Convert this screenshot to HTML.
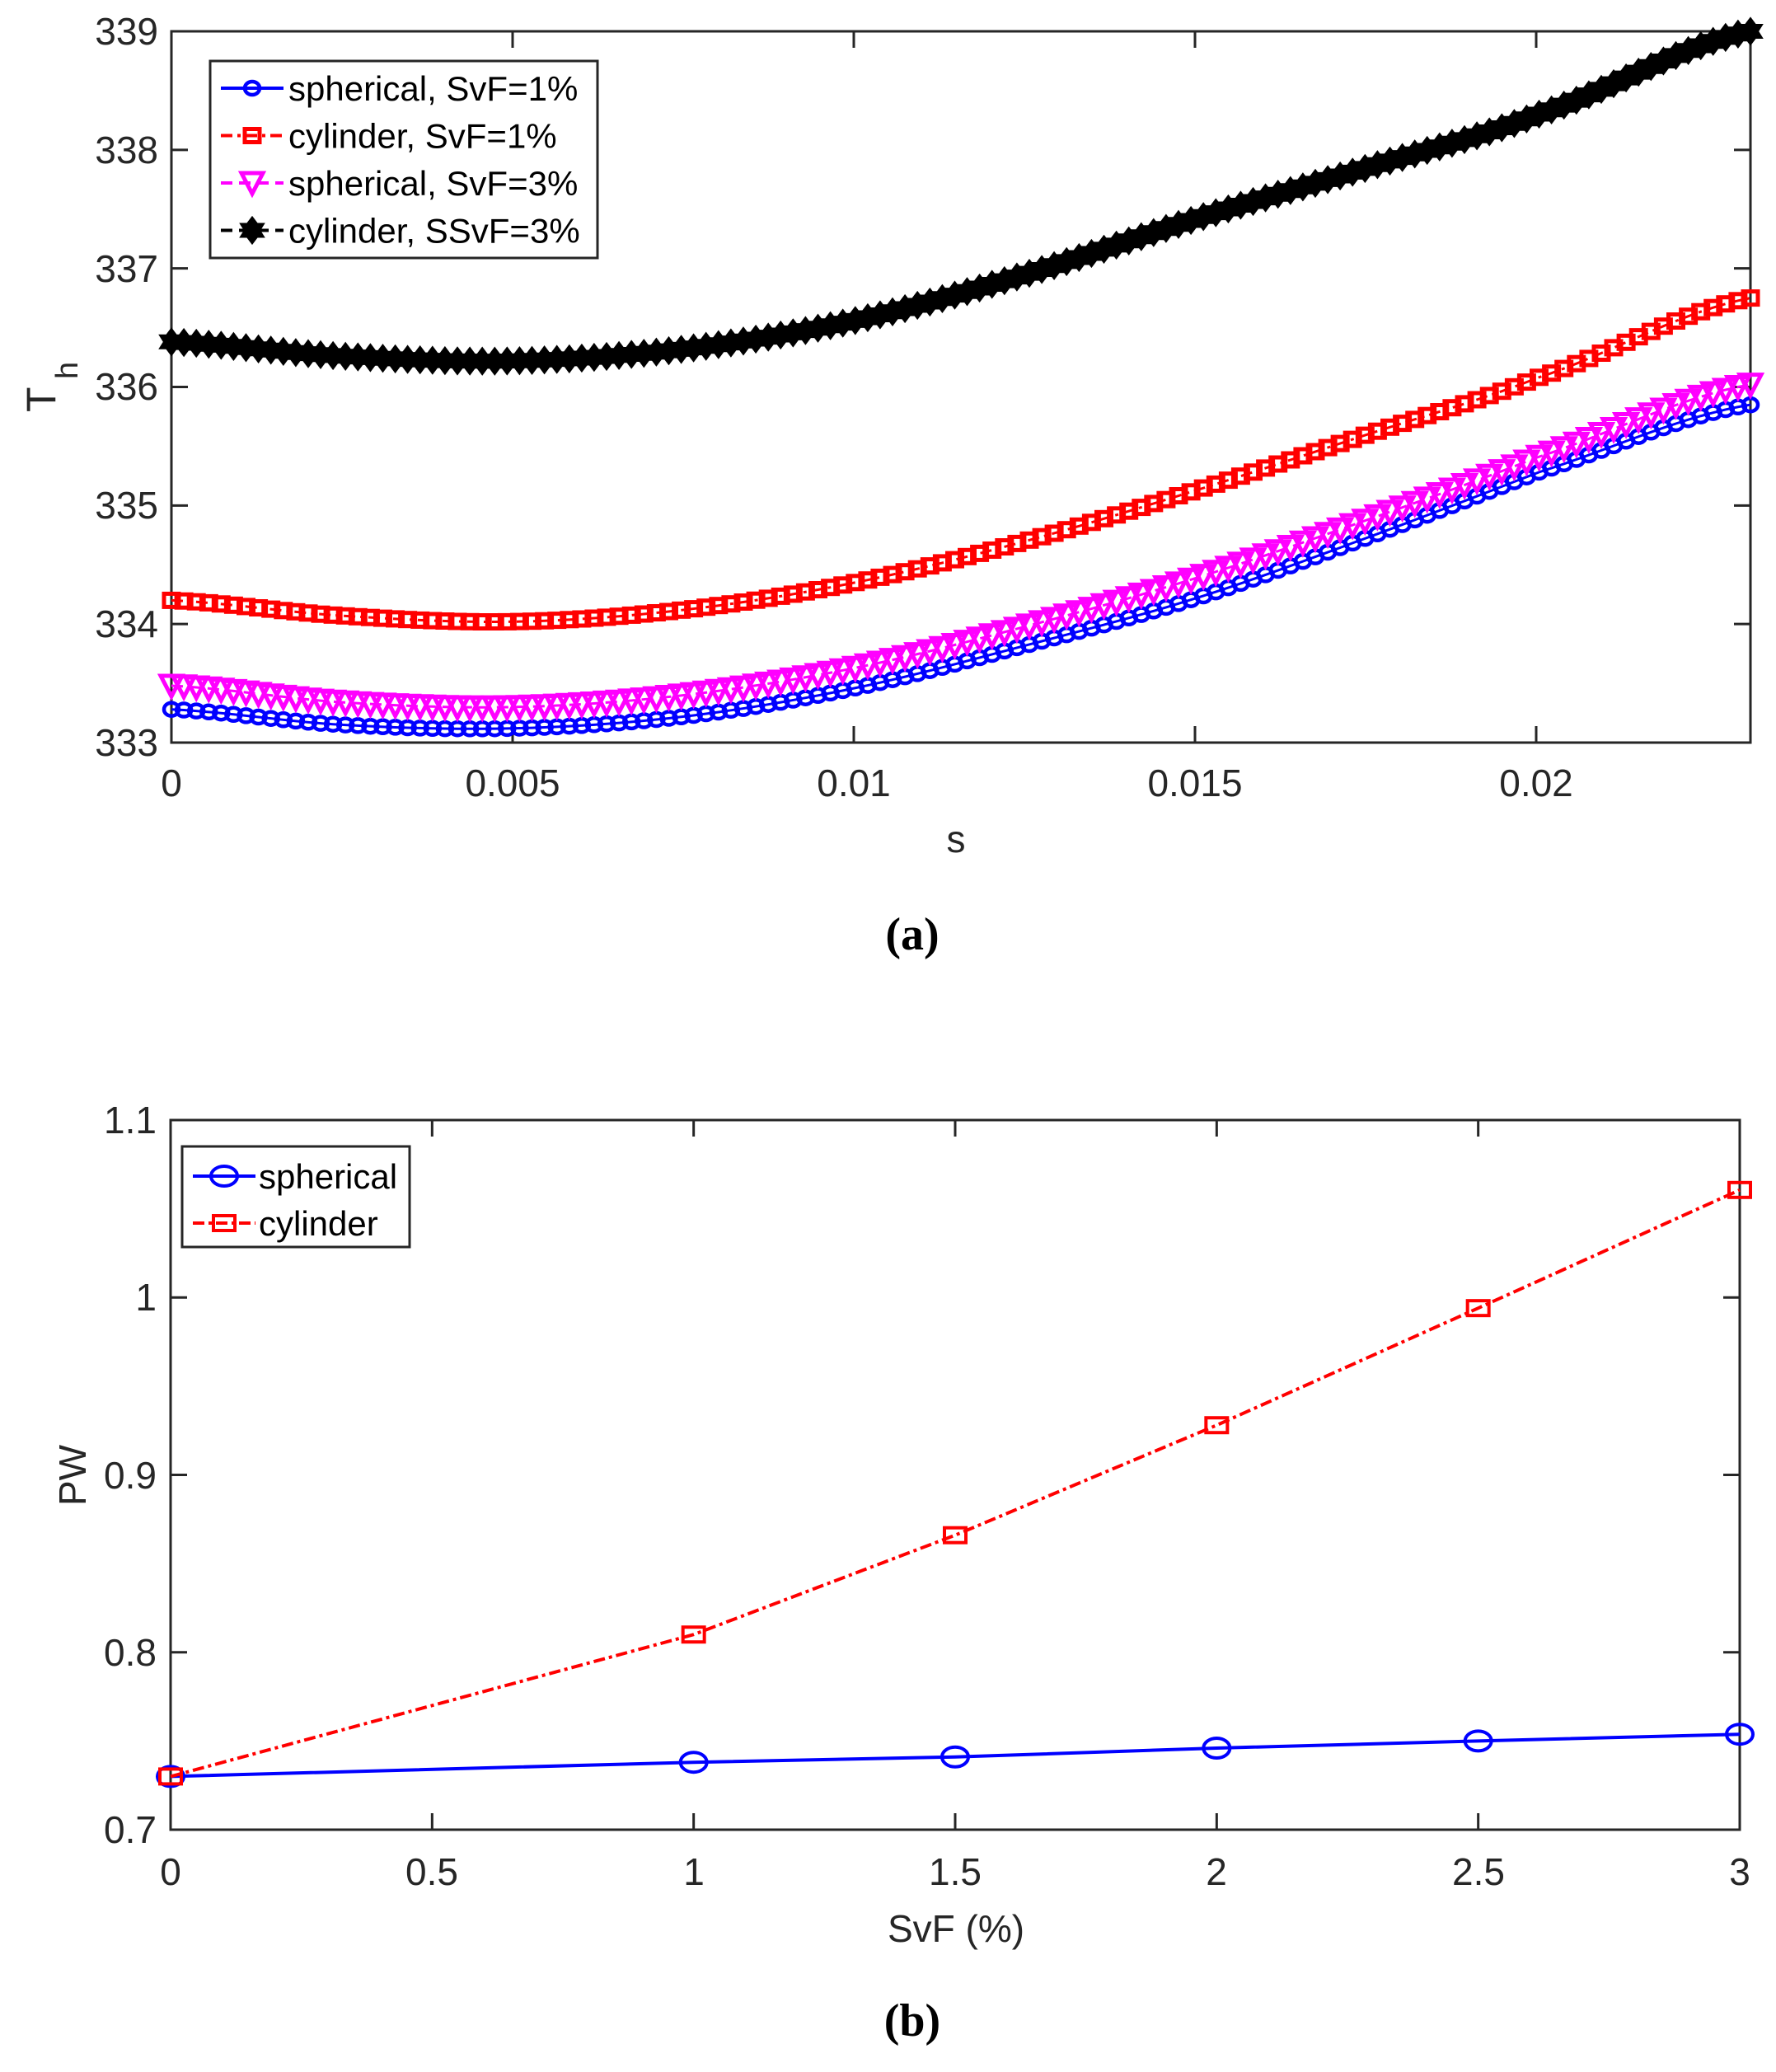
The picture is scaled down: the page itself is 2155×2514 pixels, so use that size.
<!DOCTYPE html>
<html><head><meta charset="utf-8">
<style>
html,body{margin:0;padding:0;background:#fff;}
svg{display:block;}
text{font-family:"Liberation Sans",sans-serif;fill:#262626;}
</style></head>
<body>
<svg id="s" width="2155" height="2514" viewBox="0 0 2155 2514" xmlns="http://www.w3.org/2000/svg">
<rect width="2155" height="2514" fill="#fff"/>
<g id="g"></g>
<g font-size="46" text-anchor="end">
<text x="192" y="54">339</text>
<text x="192" y="198">338</text>
<text x="192" y="342">337</text>
<text x="192" y="485">336</text>
<text x="192" y="629">335</text>
<text x="192" y="773">334</text>
<text x="192" y="917">333</text>
</g>
<g font-size="46" text-anchor="middle">
<text x="208" y="966">0</text>
<text x="622" y="966">0.005</text>
<text x="1036" y="966">0.01</text>
<text x="1450" y="966">0.015</text>
<text x="1864" y="966">0.02</text>
<text x="1160" y="1034">s</text>
<text x="1160" y="2356">SvF (%)</text>
</g>
<text x="0" y="0" font-size="50" transform="translate(67,500) rotate(-90)">T</text>
<text x="0" y="0" font-size="38" transform="translate(94,460) rotate(-90)">h</text>
<text x="0" y="0" font-size="46" text-anchor="middle" transform="translate(104,1790) rotate(-90)">PW</text>
<text x="1107" y="1152" font-size="56" font-weight="bold" text-anchor="middle" style="font-family:'Liberation Serif',serif;fill:#000">(a)</text>
<text x="1107" y="2470" font-size="56" font-weight="bold" text-anchor="middle" style="font-family:'Liberation Serif',serif;fill:#000">(b)</text>
<g font-size="46" text-anchor="end">
<text x="190" y="1375">1.1</text>
<text x="190" y="1590">1</text>
<text x="190" y="1806">0.9</text>
<text x="190" y="2021">0.8</text>
<text x="190" y="2236">0.7</text>
</g>
<g font-size="46" text-anchor="middle">
<text x="207" y="2287">0</text>
<text x="524" y="2287">0.5</text>
<text x="842" y="2287">1</text>
<text x="1159" y="2287">1.5</text>
<text x="1476" y="2287">2</text>
<text x="1794" y="2287">2.5</text>
<text x="2111" y="2287">3</text>
</g>
</svg>
<script>
const g=document.getElementById('g');
let h='';
const aL=208,aR=2124,aT=38,aB=901;
const xa=s=>aL+(s/0.0231)*(aR-aL);
const ya=v=>aB-(v-333)*(aB-aT)/6;
h+=`<rect x="${aL}" y="${aT}" width="${aR-aL}" height="${aB-aT}" fill="#fff" stroke="#262626" stroke-width="3"/>`;
for(let i=0;i<=4;i++){const x=aL+i*414;h+=`<line x1="${x}" y1="${aB}" x2="${x}" y2="${aB-20}" stroke="#262626" stroke-width="3"/><line x1="${x}" y1="${aT}" x2="${x}" y2="${aT+20}" stroke="#262626" stroke-width="3"/>`;}
for(let i=0;i<=6;i++){const y=aB-i*(aB-aT)/6;h+=`<line x1="${aL}" y1="${y}" x2="${aL+20}" y2="${y}" stroke="#262626" stroke-width="3"/><line x1="${aR}" y1="${y}" x2="${aR-20}" y2="${y}" stroke="#262626" stroke-width="3"/>`;}
const S=[0,0.0025,0.005,0.0075,0.01,0.0125,0.015,0.0175,0.02,0.0231];
const D={
k:[336.38,336.26,336.22,336.32,336.56,336.95,337.42,337.85,338.3,339.0],
r:[334.2,334.07,334.02,334.12,334.35,334.7,335.13,335.6,336.08,336.75],
m:[333.48,333.34,333.3,333.40,333.63,333.98,334.39,334.88,335.41,336.02],
b:[333.28,333.15,333.12,333.22,333.46,333.82,334.22,334.73,335.28,335.85]};
function interp(arr,s){
 let i=0;while(i<S.length-2&&s>S[i+1])i++;
 const p0=arr[Math.max(i-1,0)],p1=arr[i],p2=arr[i+1],p3=arr[Math.min(i+2,arr.length-1)];
 const t=(s-S[i])/(S[i+1]-S[i]);
 return 0.5*((2*p1)+(-p0+p2)*t+(2*p0-5*p1+4*p2-p3)*t*t+(-p0+3*p1-3*p2+p3)*t*t*t);
}
const N=128;
function pts(k){const r=[];for(let j=0;j<N;j++){const s=0.0231*j/(N-1);r.push([xa(s),ya(interp(D[k],s))]);}return r;}
function marker(type,x,y,col,big){
 x=+x;y=+y;
 if(type=='o'){const rx=big?16:9,ry=big?12:8;return `<ellipse cx="${x}" cy="${y}" rx="${rx}" ry="${ry}" fill="none" stroke="${col}" stroke-width="${big?4:4.5}"/>`;}
 if(type=='s'){const w=big?13:9,hh=big?9:8;return `<rect x="${x-w}" y="${y-hh}" width="${2*w}" height="${2*hh}" fill="none" stroke="${col}" stroke-width="${big?4:5}"/>`;}
 if(type=='v'){return `<polygon points="${x-13},${y-12} ${x+13},${y-12} ${x},${y+13}" fill="none" stroke="${col}" stroke-width="5"/>`;}
 if(type=='h'){return `<polygon points="${x},${y-16} ${x+6},${y-8} ${x+14},${y-8} ${x+9},${y} ${x+14},${y+8} ${x+6},${y+8} ${x},${y+16} ${x-6},${y+8} ${x-14},${y+8} ${x-9},${y} ${x-14},${y-8} ${x-6},${y-8}" fill="${col}" stroke="${col}" stroke-width="2"/>`;}
}
const ser=[['b','#0000ff','o',''],['m','#ff00ff','v','14 8'],['r','#ff0000','s','14 6 4 6'],['k','#000','h','14 8']];
for(const [k,c,t,da] of ser){
 const p=pts(k);
 h+=`<polyline points="${p.map(q=>q.join(',')).join(' ')}" fill="none" stroke="${c}" stroke-width="3" ${da?`stroke-dasharray="${da}"`:''}/>`;
 for(const q of p)h+=marker(t,q[0].toFixed(1),q[1].toFixed(1),c,false);
}
h+=`<rect x="255" y="74" width="470" height="239" fill="#fff" stroke="#262626" stroke-width="3"/>`;
const la=[['spherical, SvF=1%','#0000ff','o',''],['cylinder, SvF=1%','#ff0000','s','14 6 4 6'],['spherical, SvF=3%','#ff00ff','v','14 8'],['cylinder, SSvF=3%','#000','h','14 8']];
la.forEach((e,i)=>{const y=107+i*57.5;
 h+=`<line x1="268" y1="${y}" x2="344" y2="${y}" stroke="${e[1]}" stroke-width="4" ${e[3]?`stroke-dasharray="${e[3]}"`:''}/>`;
 h+=marker(e[2],306,y,e[1],false);
 h+=`<text x="350" y="${y+15}" font-size="42" style="fill:#000">${e[0]}</text>`;});
const bL=207,bR=2111,bT=1359,bB=2220;
const xb=v=>bL+v/3*(bR-bL), yb=v=>bB-(v-0.7)/0.4*(bB-bT);
h+=`<rect x="${bL}" y="${bT}" width="${bR-bL}" height="${bB-bT}" fill="#fff" stroke="#262626" stroke-width="3"/>`;
for(let i=0;i<=6;i++){const x=bL+i*(bR-bL)/6;h+=`<line x1="${x}" y1="${bB}" x2="${x}" y2="${bB-20}" stroke="#262626" stroke-width="3"/><line x1="${x}" y1="${bT}" x2="${x}" y2="${bT+20}" stroke="#262626" stroke-width="3"/>`;}
for(let i=0;i<=4;i++){const y=bB-i*(bB-bT)/4;h+=`<line x1="${bL}" y1="${y}" x2="${bL+20}" y2="${y}" stroke="#262626" stroke-width="3"/><line x1="${bR}" y1="${y}" x2="${bR-20}" y2="${y}" stroke="#262626" stroke-width="3"/>`;}
const X=[0,1,1.5,2,2.5,3];
const R=[0.73,0.81,0.866,0.928,0.994,1.0606], B=[0.73,0.738,0.741,0.746,0.750,0.7538];
const pb=B.map((v,i)=>[xb(X[i]),yb(v)]), pr=R.map((v,i)=>[xb(X[i]),yb(v)]);
h+=`<polyline points="${pb.map(q=>q.join(',')).join(' ')}" fill="none" stroke="#0000ff" stroke-width="4"/>`;
pb.forEach(q=>h+=marker('o',q[0],q[1],'#0000ff',true));
h+=`<polyline points="${pr.map(q=>q.join(',')).join(' ')}" fill="none" stroke="#ff0000" stroke-width="4" stroke-dasharray="14 5 4 5"/>`;
pr.forEach(q=>h+=marker('s',q[0],q[1],'#ff0000',true));
h+=`<rect x="221" y="1391" width="276" height="122" fill="#fff" stroke="#262626" stroke-width="3"/>`;
h+=`<line x1="234" y1="1427" x2="310" y2="1427" stroke="#0000ff" stroke-width="4"/>`+marker('o',272,1427,'#0000ff',true);
h+=`<text x="314" y="1442" font-size="42" style="fill:#000">spherical</text>`;
h+=`<line x1="234" y1="1484" x2="310" y2="1484" stroke="#ff0000" stroke-width="4" stroke-dasharray="14 5 4 5"/>`+marker('s',272,1484,'#ff0000',true);
h+=`<text x="314" y="1499" font-size="42" style="fill:#000">cylinder</text>`;
g.innerHTML=h;
</script>
</body></html>
